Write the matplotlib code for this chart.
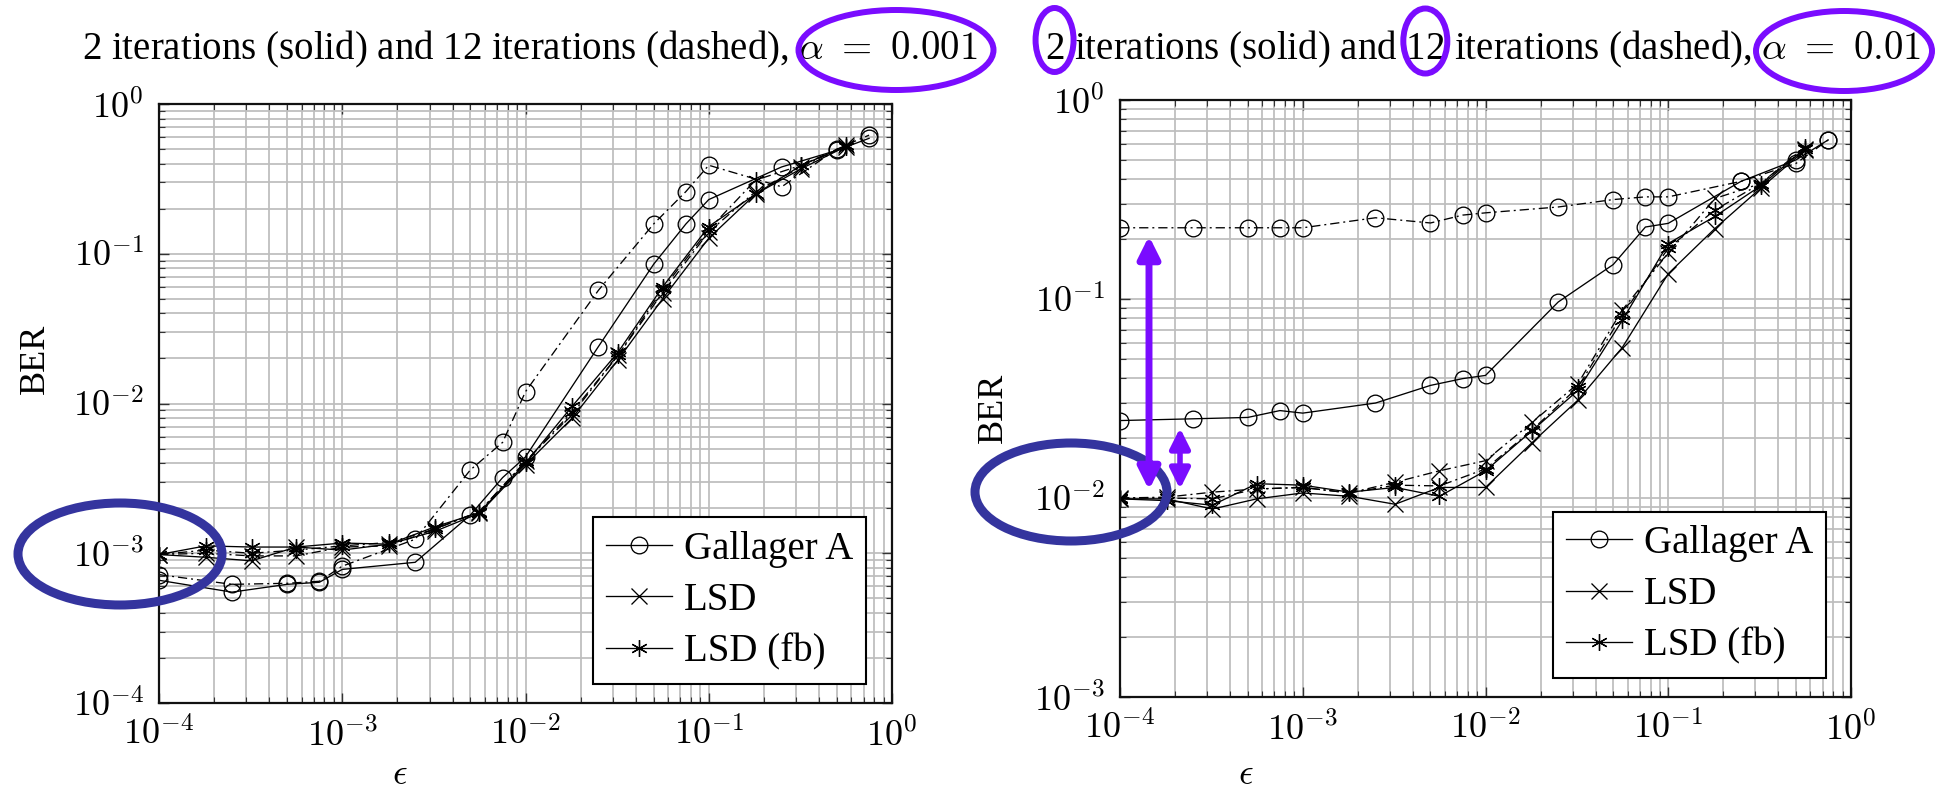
import numpy as np
import matplotlib
matplotlib.use("Agg")
import matplotlib.pyplot as plt
from matplotlib.patches import Ellipse, FancyArrowPatch, ArrowStyle
from matplotlib.ticker import LogLocator, NullFormatter, FuncFormatter

# ---------------- data ----------------
eps_ga = [1e-4, 2.5e-4, 5e-4, 7.5e-4, 1e-3, 2.5e-3, 5e-3, 7.5e-3, 1e-2,
          2.5e-2, 5e-2, 7.5e-2, 0.1, 0.25, 0.5, 0.75]
eps_lsd = [1e-4, 1.8e-4, 3.2e-4, 5.6e-4, 1e-3, 1.8e-3, 3.2e-3, 5.6e-3, 1e-2,
           1.8e-2, 3.2e-2, 5.6e-2, 0.1, 0.18, 0.32, 0.56]

# alpha = 0.001 (left)
ga2_L = [6.6e-4, 5.5e-4, 6.2e-4, 6.4e-4, 7.8e-4, 8.7e-4, 1.8e-3, 3.2e-3, 4.4e-3,
         2.4e-2, 8.5e-2, 0.158, 0.23, 0.38, 0.49, 0.59]
ga12_L = [7.2e-4, 6.2e-4, 6.3e-4, 6.5e-4, 8.2e-4, 1.24e-3, 3.6e-3, 5.5e-3, 1.2e-2,
          5.7e-2, 0.158, 0.26, 0.39, 0.28, 0.50, 0.62]
lsd2_L = [9.8e-4, 9.4e-4, 8.9e-4, 1.1e-3, 1.05e-3, 1.15e-3, 1.4e-3, 1.85e-3, 3.9e-3,
          8.0e-3, 0.0196, 0.050, 0.127, 0.25, 0.37, 0.52]
lsd12_L = [9.8e-4, 1.0e-3, 9.6e-4, 9.6e-4, 1.1e-3, 1.12e-3, 1.45e-3, 1.9e-3, 4.1e-3,
           8.5e-3, 0.021, 0.055, 0.14, 0.26, 0.38, 0.53]
fb2_L = [9.8e-4, 1.12e-3, 1.1e-3, 1.1e-3, 1.17e-3, 1.15e-3, 1.5e-3, 1.87e-3, 4.0e-3,
         9.6e-3, 0.022, 0.060, 0.152, 0.25, 0.39, 0.52]
fb12_L = [9.8e-4, 1.05e-3, 1.0e-3, 1.05e-3, 1.12e-3, 1.18e-3, 1.45e-3, 1.9e-3, 4.1e-3,
          8.8e-3, 0.021, 0.058, 0.145, 0.31, 0.39, 0.53]

# alpha = 0.01 (right)
ga2_R = [0.0245, 0.025, 0.0254, 0.0275, 0.0267, 0.030, 0.0368, 0.0398, 0.0413,
         0.0966, 0.149, 0.23, 0.24, 0.39, 0.50, 0.63]
ga12_R = [0.228, 0.228, 0.228, 0.228, 0.228, 0.256, 0.241, 0.264, 0.271,
          0.29, 0.316, 0.326, 0.326, 0.39, 0.48, 0.63]
lsd2_R = [0.0099, 0.0099, 0.0088, 0.0099, 0.0106, 0.0102, 0.0093, 0.0113, 0.0113,
          0.019, 0.031, 0.057, 0.134, 0.226, 0.36, 0.56]
lsd12_R = [0.0100, 0.0101, 0.0107, 0.0111, 0.0113, 0.0106, 0.0120, 0.0137, 0.0154,
           0.024, 0.0375, 0.088, 0.17, 0.32, 0.38, 0.57]
fb2_R = [0.0099, 0.0097, 0.0092, 0.0118, 0.0116, 0.0107, 0.0113, 0.0102, 0.0137,
         0.0218, 0.0347, 0.078, 0.19, 0.26, 0.37, 0.57]
fb12_R = [0.0100, 0.0100, 0.0099, 0.0111, 0.0113, 0.0106, 0.0116, 0.0115, 0.0140,
          0.022, 0.036, 0.083, 0.18, 0.28, 0.38, 0.58]

legend_labels = ["Gallager A", "LSD", "LSD (fb)"]
title_prefix_2 = "2 iterations (solid) and 12"
title_L = r"2 iterations (solid) and 12 iterations (dashed), $\alpha\ =\ 0.001$"
title_R = r"2 iterations (solid) and 12 iterations (dashed), $\alpha\ =\ 0.01$"

# ---------------- figure ----------------
plt.rcParams["mathtext.fontset"] = "cm"
plt.rcParams["font.family"] = ["Liberation Serif", "DejaVu Serif"]

W, H = 1939, 793
fig = plt.figure(figsize=(W / 100, H / 100), dpi=100)


def fx(px):
    return px / W


def fy(py):
    return 1 - py / H


axL = fig.add_axes([fx(159), fy(703), 733 / W, 599 / H])
axR = fig.add_axes([fx(1120), fy(697), 731 / W, 597 / H])

DASH = (0, (7, 3, 1.5, 3))
STAR = (6, 2, 0)


def decorate(ax, ymin):
    ax.set_xscale("log")
    ax.set_yscale("log")
    ax.set_xlim(1e-4, 1)
    ax.set_ylim(ymin, 1)
    for a in (ax.xaxis, ax.yaxis):
        a.set_major_locator(LogLocator(base=10, numticks=20))
        a.set_minor_locator(LogLocator(base=10, subs=np.arange(2, 10), numticks=200))
        a.set_minor_formatter(NullFormatter())
        a.set_major_formatter(FuncFormatter(lambda v, p: r"$10^{%d}$" % int(round(np.log10(v)))))
    ax.grid(True, which="both", color="#bdbdbd", lw=1.25)
    ax.set_axisbelow(True)
    ax.tick_params(which="both", direction="in", top=True, right=True,
                   labelsize=26, pad=11, color="#333333")
    ax.tick_params(which="major", length=7, width=1)
    ax.tick_params(which="minor", length=4, width=0.8)
    for s in ax.spines.values():
        s.set_linewidth(1.6)
        s.set_color("#111111")
    ax.set_xlabel(r"$\epsilon$", fontsize=26, va="center")
    ax.set_ylabel("BER", fontsize=26, va="center")


def draw(ax, g2, g12, l2, l12, f2, f12):
    kw = dict(color="k", lw=0.95, ms=12, mfc="none", mew=0.95)
    h1, = ax.plot(eps_ga, g2, ls="-", marker="o", **kw)
    ax.plot(eps_ga, g12, ls=DASH, marker="o", **kw)
    h2, = ax.plot(eps_lsd, l2, ls="-", marker="x", **kw)
    ax.plot(eps_lsd, l12, ls=DASH, marker="x", **kw)
    h3, = ax.plot(eps_lsd, f2, ls="-", marker=STAR, **kw)
    ax.plot(eps_lsd, f12, ls=DASH, marker=STAR, **kw)
    leg = ax.legend([h1, h2, h3], legend_labels, loc="lower left",
                    bbox_to_anchor=(0.592, 0.032), borderaxespad=0,
                    fontsize=28, numpoints=1, handlelength=1.7,
                    handletextpad=0.3, labelspacing=0.37, borderpad=0.34,
                    fancybox=False, framealpha=1, edgecolor="k")
    leg.get_frame().set_linewidth(1.5)


decorate(axL, 1e-4)
decorate(axR, 1e-3)
draw(axL, ga2_L, ga12_L, lsd2_L, lsd12_L, fb2_L, fb12_L)
draw(axR, ga2_R, ga12_R, lsd2_R, lsd12_R, fb2_R, fb12_R)

axL.yaxis.set_label_coords((35 - 159) / 733, (703 - 359) / 599)
axR.yaxis.set_label_coords((993 - 1120) / 731, (697 - 408) / 597)
axL.xaxis.set_label_coords((400 - 159) / 733, (703 - 775) / 599)
axR.xaxis.set_label_coords((1246 - 1120) / 731, (697 - 775) / 597)

TSIZE = 28
fig.text(fx(530), fy(59), title_L, ha="center", va="baseline", fontsize=TSIZE)
tR = fig.text(fx(1483), fy(59), title_R, ha="center", va="baseline", fontsize=TSIZE)

# ---------------- annotations ----------------
VIOLET = "#7a0cff"
NAVY = "#34349e"

renderer = fig.canvas.get_renderer()


def text_width(s):
    t = fig.text(0, 0, s, fontsize=TSIZE)
    w = t.get_window_extent(renderer).width
    t.remove()
    return w


x0R = tR.get_window_extent(renderer).x0
x_two = x0R + text_width("2") / 2
x_twelve = x0R + text_width(title_prefix_2) - text_width("12") / 2


def ell(cx, cy, w, h, color, lw):
    fig.add_artist(Ellipse((fx(cx), fy(cy)), w / W, h / H, transform=fig.transFigure,
                           fill=False, edgecolor=color, lw=lw, zorder=10))


ell(896, 50, 195, 80, VIOLET, 4.3)
ell(x_two, 40, 38, 64, VIOLET, 4.3)
ell(x_twelve, 41, 44, 65, VIOLET, 4.3)
ell(1844, 51, 176, 80, VIOLET, 4.3)
ell(120, 554, 204, 102, NAVY, 6.5)
ell(1071, 492, 192, 98, NAVY, 6.5)


def darrow(x, y0, y1, lw, hl, hw):
    fig.add_artist(FancyArrowPatch((fx(x), fy(y0)), (fx(x), fy(y1)),
                                   transform=fig.transFigure,
                                   arrowstyle=ArrowStyle("<|-|>", head_length=hl, head_width=hw),
                                   mutation_scale=1, lw=lw, color=VIOLET,
                                   shrinkA=0, shrinkB=0, zorder=11))


darrow(1149, 490, 236, 5.0, 13, 6.5)
darrow(1180, 489, 428, 4.0, 12, 6.0)

fig.savefig("out.png", dpi=100)
